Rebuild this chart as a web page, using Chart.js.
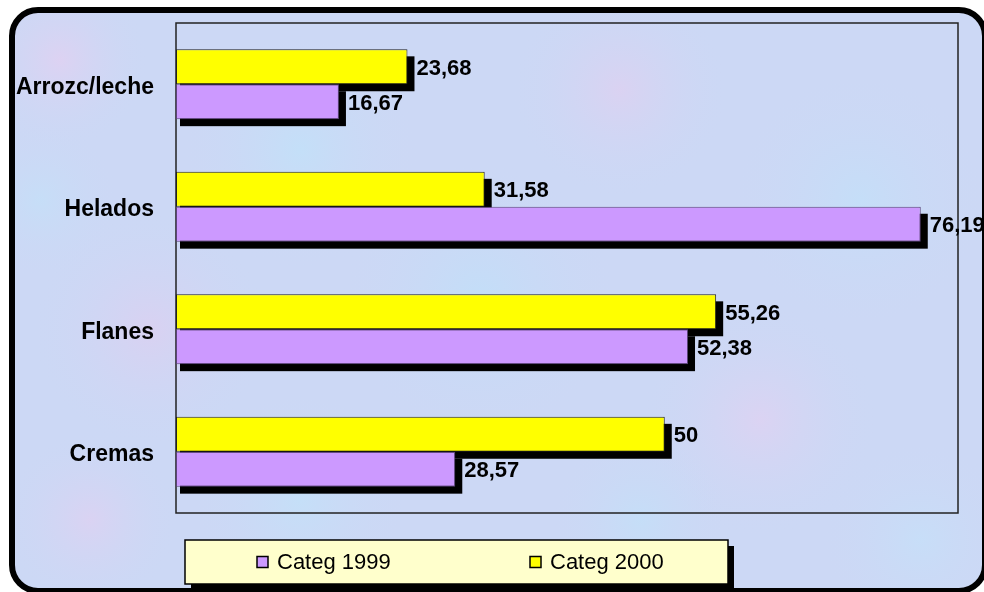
<!DOCTYPE html>
<html>
<head>
<meta charset="utf-8">
<script src="https://cdn.jsdelivr.net/npm/chart.js@4/dist/chart.umd.min.js"></script>
<style>
  html, body { margin: 0; padding: 0; background: #fff; }
  canvas { display: block; }
</style>
</head>
<body>
<canvas id="postresChart" width="984" height="592"></canvas>
<script>
// categories and values
const categories = ['Arrozc/leche', 'Helados', 'Flanes', 'Cremas'];
const categ1999 = [16.67, 76.19, 52.38, 28.57];
const categ2000 = [23.68, 31.58, 55.26, 50];
const seriesNames = ['Categ 1999', 'Categ 2000'];

const FONT = "'Liberation Sans', Arial, sans-serif";

// marbled pastel background inside a rounded black frame
const backgroundPlugin = {
    id: 'background',
    beforeDraw(chart) {
        const c = chart.ctx;
        c.save();
        c.fillStyle = '#fff';
        c.fillRect(0, 0, chart.width, chart.height);
        c.beginPath();
        c.roundRect(12, 10, 973, 581, 26);
        c.fillStyle = 'rgb(204,216,245)';
        c.fill();
        c.clip();
        let blobs = [
            [60, 60, 90, 'rgba(235,205,240,0.55)'], [300, 150, 120, 'rgba(190,228,250,0.6)'],
            [620, 90, 110, 'rgba(232,204,238,0.5)'], [860, 200, 130, 'rgba(192,226,250,0.6)'],
            [150, 330, 120, 'rgba(230,202,238,0.5)'], [480, 300, 140, 'rgba(188,226,250,0.6)'],
            [760, 420, 120, 'rgba(234,206,240,0.5)'], [300, 500, 110, 'rgba(192,228,250,0.6)'],
            [90, 520, 90, 'rgba(232,205,240,0.5)'], [920, 540, 100, 'rgba(196,226,250,0.6)'],
            [640, 520, 90, 'rgba(190,228,250,0.5)'], [40, 200, 80, 'rgba(192,228,250,0.5)']
        ];
        blobs.forEach(([x, y, r, col]) => {
            let g = c.createRadialGradient(x, y, 0, x, y, r);
            g.addColorStop(0, col);
            g.addColorStop(1, 'rgba(204,216,245,0)');
            c.fillStyle = g;
            c.fillRect(x - r, y - r, r * 2, r * 2);
        });
        c.restore();
        c.save();
        c.beginPath();
        c.roundRect(12, 10, 973, 581, 26);
        c.lineWidth = 6;
        c.strokeStyle = '#000';
        c.stroke();
        c.restore();
    }
};

// plot frame and black drop shadows under the bars
const shadowPlugin = {
    id: 'barShadows',
    beforeDatasetsDraw(chart) {
        const c = chart.ctx;
        const a = chart.chartArea;
        c.save();
        c.strokeStyle = '#222';
        c.lineWidth = 1.5;
        c.strokeRect(a.left, a.top, a.right - a.left, a.bottom - a.top);
        c.fillStyle = '#000';
        chart.data.datasets.forEach((ds, i) => {
            chart.getDatasetMeta(i).data.forEach(bar => {
                let p = bar.getProps(['x', 'y', 'base', 'height'], true);
                c.fillRect(p.base + 4, p.y - p.height / 2 + 7, p.x - p.base + 3, p.height);
            });
        });
        c.restore();
    }
};

// value labels with comma decimals
const valueLabelPlugin = {
    id: 'valueLabels',
    afterDatasetsDraw(chart) {
        const c = chart.ctx;
        c.save();
        c.font = 'bold 22px ' + FONT;
        c.fillStyle = '#000';
        c.textBaseline = 'middle';
        c.textAlign = 'left';
        chart.data.datasets.forEach((ds, i) => {
            chart.getDatasetMeta(i).data.forEach((bar, j) => {
                let p = bar.getProps(['x', 'y'], true);
                c.fillText(String(ds.data[j]).replace('.', ','), p.x + 9, p.y + 2);
            });
        });
        c.restore();
    }
};

// boxed legend with shadow, 1999 first
const legendBoxPlugin = {
    id: 'legendBox',
    afterDraw(chart) {
        const c = chart.ctx;
        c.save();
        c.fillStyle = '#000';
        c.fillRect(191, 546, 543, 44);
        c.fillStyle = '#FFFFCC';
        c.fillRect(185, 540, 543, 44);
        c.strokeStyle = '#000';
        c.lineWidth = 1.5;
        c.strokeRect(185, 540, 543, 44);
        c.font = '22px ' + FONT;
        c.textBaseline = 'middle';
        let xs = [257, 530];
        seriesNames.forEach((name, k) => {
            let ds = chart.data.datasets.find(d => d.label === name);
            c.fillStyle = ds.backgroundColor;
            c.fillRect(xs[k], 556.5, 11, 11);
            c.strokeStyle = '#000';
            c.lineWidth = 1.5;
            c.strokeRect(xs[k], 556.5, 11, 11);
            c.fillStyle = '#000';
            c.fillText(name, xs[k] + 20, 563);
        });
        c.restore();
    }
};

let ctx = document.getElementById('postresChart').getContext('2d');

let postresChart = new Chart(ctx, {
    type: 'bar',
    data: {
        labels: categories,
        datasets: [{
            label: seriesNames[1],
            data: categ2000,
            backgroundColor: '#FFFF00',
            borderColor: '#222',
            borderWidth: 1,
            borderSkipped: false
        }, {
            label: seriesNames[0],
            data: categ1999,
            backgroundColor: '#CC99FF',
            borderColor: '#5a4478',
            borderWidth: 1,
            borderSkipped: false
        }]
    },
    options: {
        indexAxis: 'y',
        responsive: false,
        animation: false,
        devicePixelRatio: 1,
        layout: {
            padding: { left: 0, top: 23, right: 26, bottom: 79 }
        },
        datasets: {
            bar: { barPercentage: 1, categoryPercentage: 0.57 }
        },
        scales: {
            x: {
                display: false,
                min: 0,
                max: 80
            },
            y: {
                grid: { display: false, drawTicks: false },
                border: { display: false },
                ticks: {
                    color: '#000',
                    padding: 22,
                    labelOffset: 3,
                    font: { family: FONT, size: 23, weight: 'bold' }
                },
                afterFit(scale) {
                    scale.width = 176;
                    scale.paddingTop = 0;
                    scale.paddingBottom = 0;
                }
            }
        },
        plugins: {
            legend: { display: false },
            tooltip: { enabled: false }
        }
    },
    plugins: [backgroundPlugin, shadowPlugin, valueLabelPlugin, legendBoxPlugin]
});
</script>
</body>
</html>
